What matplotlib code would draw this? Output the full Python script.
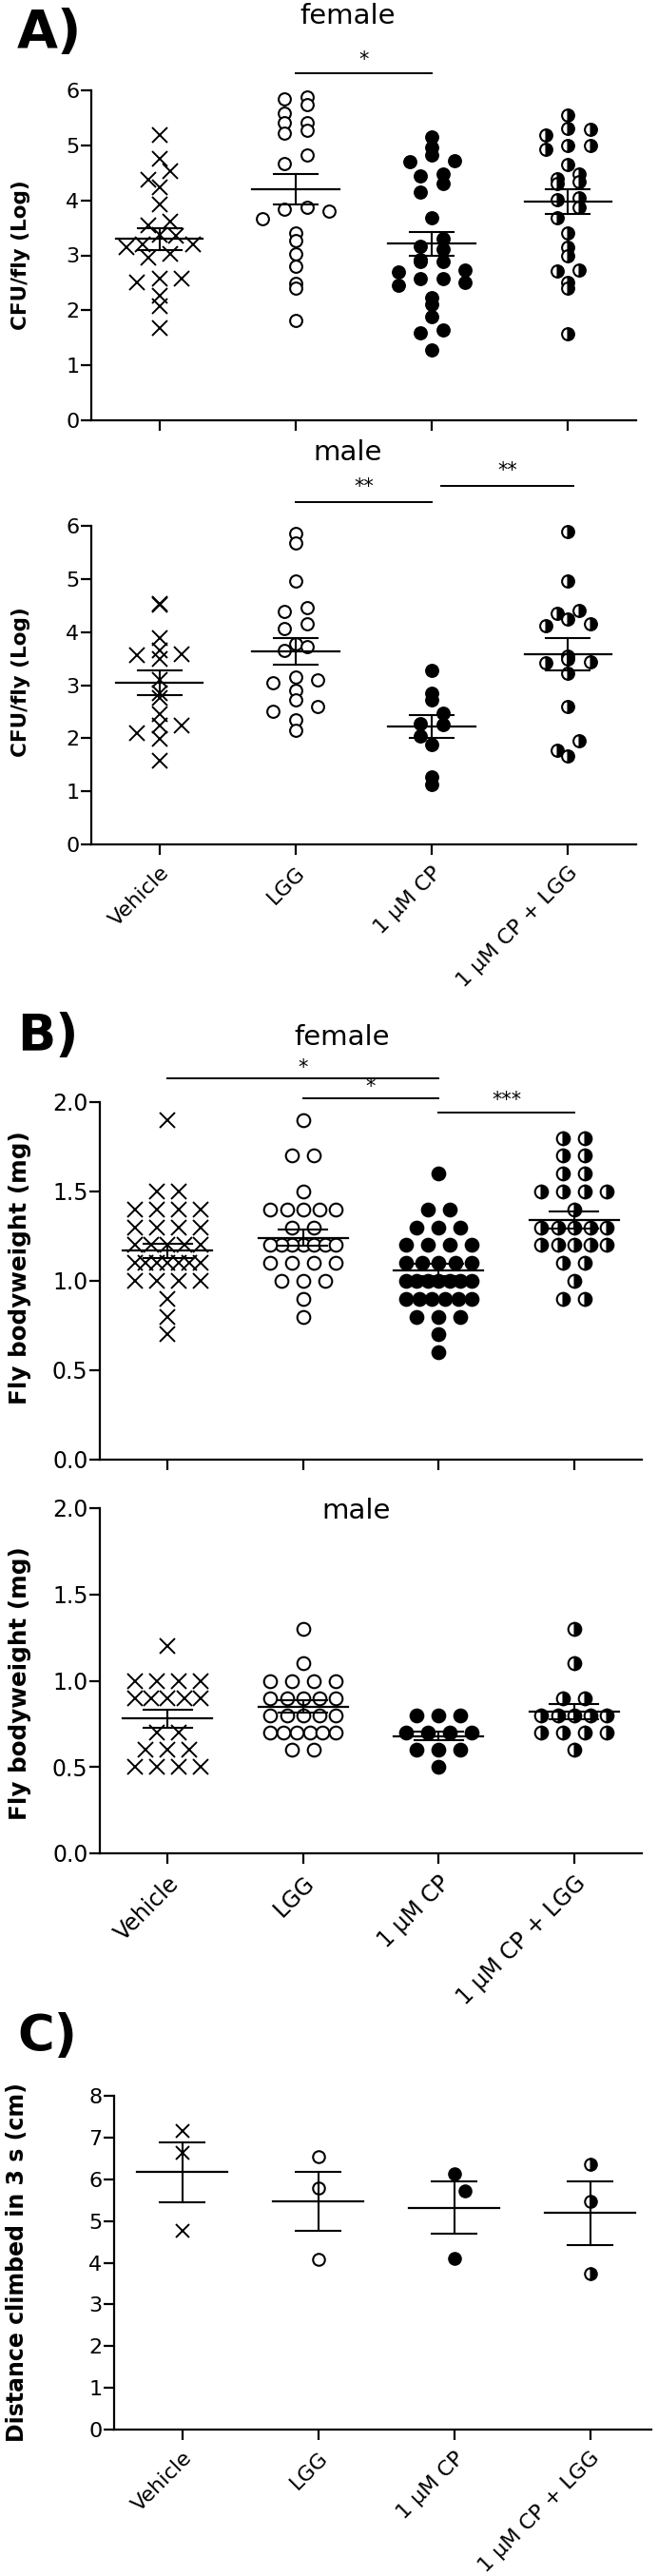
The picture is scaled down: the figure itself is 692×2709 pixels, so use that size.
import numpy as np
import matplotlib
matplotlib.use("Agg")
import matplotlib.pyplot as plt

plt.rcParams['font.family'] = ['DejaVu Sans']

# ---------------- data ----------------
groups = ["Vehicle", "LGG", "1 \u00b5M CP", "1 \u00b5M CP + LGG"]

# A) CFU/fly (Log) - female
a_f_vehicle = [5.18, 4.76, 4.53, 4.38, 4.24, 3.92, 3.61, 3.55, 3.38, 3.35, 3.20, 3.20, 3.15, 3.03,
               2.95, 2.57, 2.57, 2.51, 2.26, 2.08, 1.68]
a_f_lgg = [5.88, 5.84, 5.74, 5.59, 5.42, 5.42, 5.28, 5.22, 4.82, 4.66, 3.87, 3.84, 3.81, 3.67,
           3.41, 3.26, 3.03, 2.80, 2.49, 2.40, 1.82]
a_f_cp = [5.16, 4.96, 4.82, 4.72, 4.70, 4.47, 4.44, 4.30, 4.15, 3.69, 3.31, 3.16, 3.12, 2.92,
          2.89, 2.89, 2.74, 2.69, 2.57, 2.57, 2.51, 2.46, 2.23, 2.11, 1.88, 1.65, 1.59, 1.28]
a_f_cplgg = [5.55, 5.31, 5.29, 5.19, 4.99, 4.99, 4.93, 4.65, 4.48, 4.40, 4.34, 4.30, 4.04, 4.01,
             3.87, 3.69, 3.41, 3.15, 3.00, 2.74, 2.72, 2.51, 2.40, 1.58]
a_f_mean = [3.30, 4.20, 3.21, 3.98]
a_f_sem = [0.20, 0.28, 0.21, 0.23]

# A) male
a_m_vehicle = [4.54, 4.51, 3.88, 3.66, 3.58, 3.56, 3.49, 3.10, 2.84, 2.75, 2.45, 2.24, 2.24, 2.09, 1.99, 1.58]
a_m_lgg = [5.85, 5.68, 4.96, 4.46, 4.38, 4.16, 4.06, 3.78, 3.72, 3.66, 3.15, 3.09, 3.04, 2.91,
           2.73, 2.59, 2.51, 2.35, 2.15]
a_m_cp = [3.27, 2.85, 2.73, 2.48, 2.27, 2.25, 2.04, 1.88, 1.28, 1.12]
a_m_cplgg = [5.89, 4.96, 4.40, 4.36, 4.24, 4.15, 4.12, 3.54, 3.50, 3.43, 3.42, 3.22, 2.59, 1.96, 1.77, 1.67]
a_m_mean = [3.05, 3.64, 2.22, 3.58]
a_m_sem = [0.23, 0.25, 0.21, 0.31]

# B) Fly bodyweight (mg) - female
b_f_vehicle = [1.9, 1.5, 1.5, 1.4, 1.4, 1.4, 1.4, 1.3, 1.3, 1.3, 1.3, 1.2, 1.2, 1.2, 1.2, 1.2,
               1.1, 1.1, 1.1, 1.1, 1.1, 1.1, 1.1, 1.0, 1.0, 1.0, 1.0, 0.9, 0.8, 0.7]
b_f_lgg = [1.9, 1.7, 1.7, 1.5, 1.4, 1.4, 1.4, 1.4, 1.4, 1.3, 1.3, 1.2, 1.2, 1.2, 1.2, 1.2, 1.2, 1.2,
           1.1, 1.1, 1.1, 1.1, 1.0, 1.0, 1.0, 0.9, 0.8]
b_f_cp = [1.6, 1.4, 1.4, 1.3, 1.3, 1.3, 1.2, 1.2, 1.2, 1.2, 1.1, 1.1, 1.1, 1.1, 1.1,
          1.0, 1.0, 1.0, 1.0, 1.0, 1.0, 1.0, 0.9, 0.9, 0.9, 0.9, 0.9, 0.9, 0.8, 0.8, 0.8, 0.7, 0.6]
b_f_cplgg = [1.8, 1.8, 1.7, 1.7, 1.6, 1.6, 1.5, 1.5, 1.5, 1.5, 1.4, 1.3, 1.3, 1.3, 1.3, 1.3,
             1.2, 1.2, 1.2, 1.2, 1.2, 1.1, 1.1, 1.0, 0.9, 0.9]
b_f_mean = [1.17, 1.24, 1.06, 1.34]
b_f_sem = [0.04, 0.045, 0.035, 0.05]

# B) male
b_m_vehicle = [1.2, 1.0, 1.0, 1.0, 1.0, 0.9, 0.9, 0.9, 0.9, 0.9, 0.7, 0.7, 0.6, 0.6, 0.6, 0.5, 0.5, 0.5, 0.5]
b_m_lgg = [1.3, 1.1, 1.0, 1.0, 1.0, 1.0, 0.9, 0.9, 0.9, 0.9, 0.9, 0.8, 0.8, 0.8, 0.8, 0.8,
           0.7, 0.7, 0.7, 0.7, 0.7, 0.7, 0.6, 0.6]
b_m_cp = [0.8, 0.8, 0.8, 0.7, 0.7, 0.7, 0.7, 0.6, 0.6, 0.6, 0.5]
b_m_cplgg = [1.3, 1.1, 0.9, 0.9, 0.8, 0.8, 0.8, 0.8, 0.8, 0.7, 0.7, 0.7, 0.7, 0.6]
b_m_mean = [0.78, 0.85, 0.68, 0.82]
b_m_sem = [0.05, 0.036, 0.026, 0.044]

# C) Distance climbed in 3 s (cm)
c_vehicle = [7.15, 6.64, 4.76]
c_lgg = [6.53, 5.80, 4.08]
c_cp = [6.13, 5.71, 4.11]
c_cplgg = [6.37, 5.47, 3.73]
c_mean = [6.17, 5.47, 5.32, 5.19]
c_sem = [0.72, 0.715, 0.62, 0.77]

# ---------------- layout helpers ----------------
W, H = 692, 2709
fig = plt.figure(figsize=(W / 100, H / 100), dpi=100)


def add_ax(left, right, top, bottom):
    return fig.add_axes([left / W, 1 - bottom / H, (right - left) / W, (bottom - top) / H])


def spread(n, grid_px):
    if n == 1:
        return np.zeros(1)
    s = min(2.0, 6.0 / (n - 1))
    pos = (np.arange(n) - (n - 1) / 2.0) * s * grid_px
    order = np.argsort(np.abs(pos) + 1e-6 * np.sign(-pos), kind='stable')
    return pos[order]


def binned_offsets(vals, px_per_unit, grid_px, bin_px):
    vals = np.asarray(vals, float)
    offs = np.zeros(len(vals))
    keys = np.floor(vals * px_per_unit / bin_px + 1e-9)
    for k in np.unique(keys):
        idx = np.where(keys == k)[0]
        idx = idx[np.argsort(-vals[idx], kind='stable')]
        offs[idx] = spread(len(idx), grid_px)
    return offs


def swarm_offsets(vals, px_per_unit, grid_px, diam_px, max_k=8):
    vals = np.asarray(vals, float)
    order = np.argsort(-vals, kind="stable")
    placed = []
    offs = np.zeros(len(vals))
    side = 1
    for idx in order:
        y = vals[idx] * px_per_unit
        cands = [0]
        for k in range(1, max_k + 1):
            cands += [side * k, -side * k]
        chosen = cands[-1]
        for c in cands:
            x = c * grid_px
            if all((x - px) ** 2 + (y - py) ** 2 >= diam_px ** 2 for px, py in placed):
                chosen = c
                break
        if chosen != 0:
            side = -np.sign(chosen)
        placed.append((chosen * grid_px, y))
        offs[idx] = chosen * grid_px
    return offs


def marker_styles(ms_o, ms_x):
    return [
        dict(marker='x', ms=ms_x, mew=1.4, color='black', ls='none'),
        dict(marker='o', ms=ms_o, mew=1.5, mfc='white', mec='black', ls='none'),
        dict(marker='o', ms=ms_o, mew=1.5, mfc='black', mec='black', ls='none'),
        dict(marker='o', ms=ms_o, mew=1.5, mfc='black', mfcalt='white', mec='black',
             fillstyle='right', ls='none'),
    ]


def draw_panel(ax, series, means, sems, ylim, yticks, ytickfmt, px_per_unit, cat_px,
               mode, grid_px, size_px, ms_o, ms_x, tick_fs, show_xlabels,
               mean_hw=0.32, cap_hw=0.16):
    styles = marker_styles(ms_o, ms_x)
    for i, vals in enumerate(series):
        if mode == 'swarm':
            off = swarm_offsets(vals, px_per_unit, grid_px, size_px)
        else:
            off = binned_offsets(vals, px_per_unit, grid_px, size_px)
        ax.plot(i + off / cat_px, vals, zorder=3, clip_on=False, **styles[i])
        m, s = means[i], sems[i]
        ax.plot([i - mean_hw, i + mean_hw], [m, m], color='black', lw=1.6, zorder=4)
        ax.plot([i, i], [m - s, m + s], color='black', lw=1.5, zorder=4)
        for yy in (m - s, m + s):
            ax.plot([i - cap_hw, i + cap_hw], [yy, yy], color='black', lw=1.5, zorder=4)
    ax.set_ylim(*ylim)
    ax.set_yticks(yticks)
    ax.set_yticklabels([ytickfmt.format(t) for t in yticks])
    ax.set_xticks(range(4))
    if show_xlabels:
        ax.set_xticklabels(groups, rotation=45, ha='right', va='top',
                           rotation_mode='anchor', fontsize=18)
    else:
        ax.set_xticklabels([])
    for sp in ('top', 'right'):
        ax.spines[sp].set_visible(False)
    for sp in ('left', 'bottom'):
        ax.spines[sp].set_linewidth(1.6)
    ax.tick_params(axis='both', direction='out', length=8, width=1.6, labelsize=tick_fs)
    ax.tick_params(axis='y', pad=1)
    ax.tick_params(axis='x', pad=6)


def sig(ax, x0, x1, y, ystar, text, fs=15):
    ax.plot([x0, x1], [y, y], color='black', lw=1.4, clip_on=False)
    ax.text((x0 + x1) / 2, ystar, text, ha='center', va='center', fontsize=fs, clip_on=False)


# ---------------- Panel A ----------------
axAf = add_ax(96, 669, 95, 442)
axAf.set_xlim(-0.5, 3.5)
draw_panel(axAf, [a_f_vehicle, a_f_lgg, a_f_cp, a_f_cplgg], a_f_mean, a_f_sem,
           (0, 6), list(range(7)), "{:d}", 347 / 6, 143.25, 'bin', 11.7, 14.0,
           9.2, 11.5, 16, False)
sig(axAf, 1.0, 2.0, 6.31, 6.55, "*")

axAm = add_ax(96, 669, 553, 888)
axAm.set_xlim(-0.5, 3.5)
draw_panel(axAm, [a_m_vehicle, a_m_lgg, a_m_cp, a_m_cplgg], a_m_mean, a_m_sem,
           (0, 6), list(range(7)), "{:d}", 335 / 6, 143.25, 'bin', 11.7, 14.0,
           9.2, 11.5, 16, True)
sig(axAm, 1.0, 2.0, 6.45, 6.73, "**")
sig(axAm, 2.07, 3.04, 6.75, 7.04, "**")

# ---------------- Panel B ----------------
axBf = add_ax(105, 675, 1159, 1535)
axBf.set_xlim(-0.5, 3.5)
draw_panel(axBf, [b_f_vehicle, b_f_lgg, b_f_cp, b_f_cplgg], b_f_mean, b_f_sem,
           (0, 2), [0, 0.5, 1.0, 1.5, 2.0], "{:.1f}", 376 / 2, 142.5, 'bin', 11.5, 18.8,
           9.8, 11.5, 17, False, mean_hw=0.33, cap_hw=0.18)
sig(axBf, 0.0, 2.0, 2.133, 2.19, "*")
sig(axBf, 1.0, 2.0, 2.02, 2.085, "*")
sig(axBf, 2.0, 3.0, 1.94, 2.01, "***")

axBm = add_ax(105, 675, 1586, 1949)
axBm.set_xlim(-0.5, 3.5)
draw_panel(axBm, [b_m_vehicle, b_m_lgg, b_m_cp, b_m_cplgg], b_m_mean, b_m_sem,
           (0, 2), [0, 0.5, 1.0, 1.5, 2.0], "{:.1f}", 363 / 2, 142.5, 'bin', 11.5, 18.15,
           9.8, 11.5, 17, True, mean_hw=0.33, cap_hw=0.18)

# ---------------- Panel C ----------------
axC = add_ax(120, 685, 2204, 2555)
axC.set_xlim(-0.5, 3.45)
draw_panel(axC, [c_vehicle, c_lgg, c_cp, c_cplgg], c_mean, c_sem,
           (0, 8), list(range(9)), "{:d}", 351 / 8, 143, 'swarm', 11, 20,
           9, 10, 16, True, mean_hw=0.33, cap_hw=0.165)

# ---------------- Texts ----------------
def ftext(x, y, s, **kw):
    fig.text(x / W, 1 - y / H, s, **kw)

ftext(18, 50, "A)", fontsize=40, fontweight='bold', ha='left', va='baseline')
ftext(18, 1105, "B)", fontsize=38, fontweight='bold', ha='left', va='baseline')
ftext(18, 2157, "C)", fontsize=38, fontweight='bold', ha='left', va='baseline')

ftext(366, 25, "female", fontsize=21, ha='center', va='baseline')
ftext(366, 484, "male", fontsize=21, ha='center', va='baseline')
ftext(360, 1099, "female", fontsize=21, ha='center', va='baseline')
ftext(375, 1597, "male", fontsize=21, ha='center', va='baseline')

ftext(22, 268, "CFU/fly (Log)", fontsize=15.5, fontweight='bold', rotation=90, ha='center', va='center')
ftext(22, 717, "CFU/fly (Log)", fontsize=15.5, fontweight='bold', rotation=90, ha='center', va='center')
ftext(21, 1333, "Fly bodyweight (mg)", fontsize=17.7, fontweight='bold', rotation=90, ha='center', va='center')
ftext(21, 1770, "Fly bodyweight (mg)", fontsize=17.7, fontweight='bold', rotation=90, ha='center', va='center')
ftext(18, 2379, "Distance climbed in 3 s (cm)", fontsize=17, fontweight='bold', rotation=90, ha='center', va='center')

fig.savefig("out.png", dpi=100, facecolor='white')
